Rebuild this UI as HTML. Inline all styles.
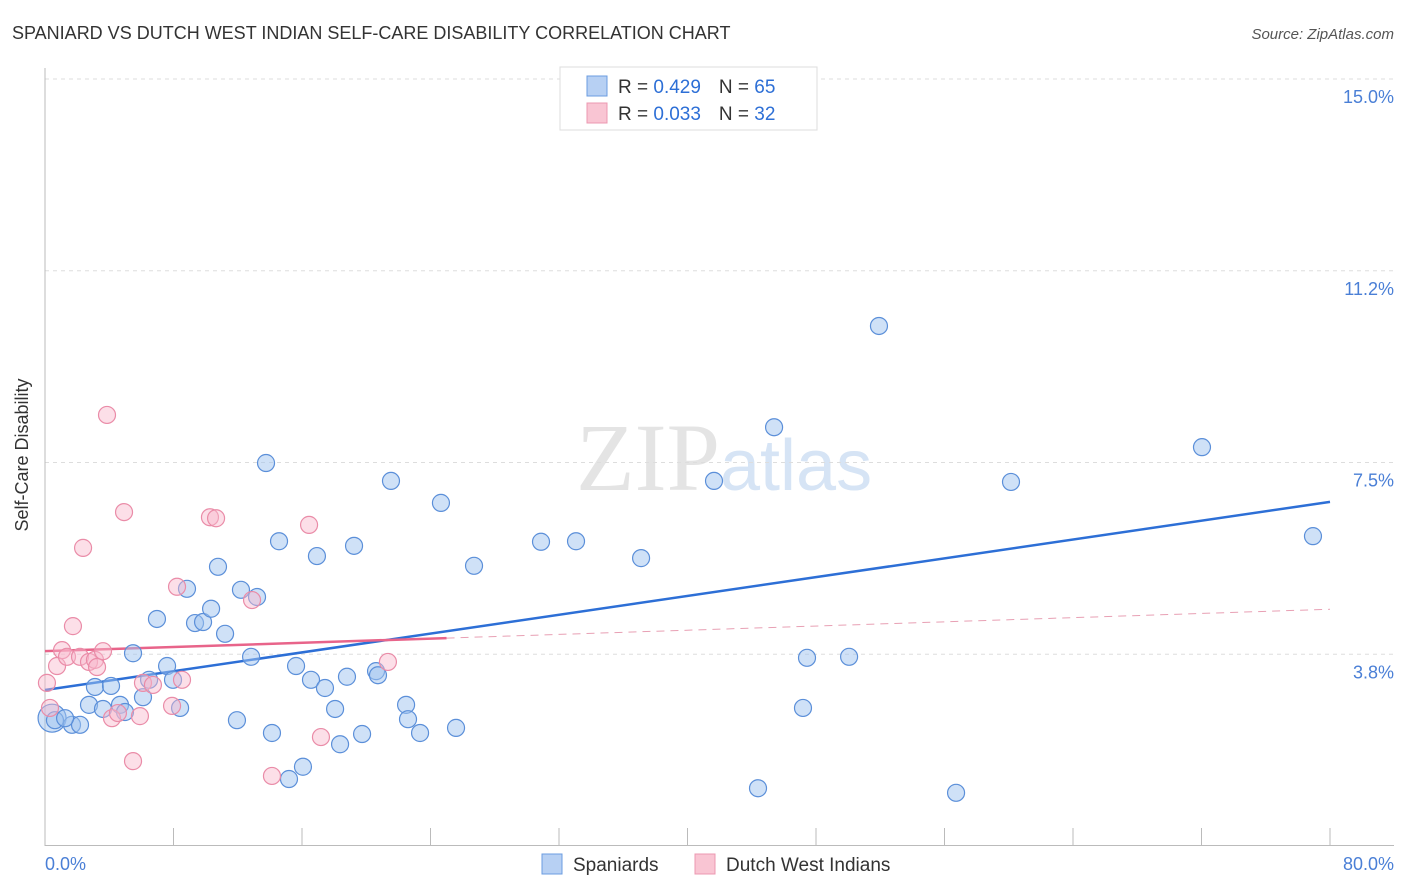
<!DOCTYPE html>
<html><head><meta charset="utf-8"><style>
body{margin:0;background:#fff;font-family:"Liberation Sans",sans-serif;}
svg{display:block}
</style></head><body>
<svg id="chart" width="1406" height="892">
<text x="12" y="39" font-size="18" fill="#333">SPANIARD VS DUTCH WEST INDIAN SELF-CARE DISABILITY CORRELATION CHART</text>
<text x="1394" y="39" font-size="15" fill="#555" font-style="italic" text-anchor="end">Source: ZipAtlas.com</text>
<text x="720" y="490" font-size="96" fill="#e4e4e4" text-anchor="end" font-family="Liberation Serif,serif">ZIP</text>
<text x="720" y="490" font-size="72" fill="#d6e4f5">atlas</text>
<g id="grid"></g><g id="axes"></g><g id="lines"></g><g id="pts"></g>
<text x="28" y="455" font-size="18" fill="#333" transform="rotate(-90 28 455)" text-anchor="middle">Self-Care Disability</text>
<text x="45" y="870" font-size="18" fill="#4a7fd6">0.0%</text>
<text x="1394" y="870" font-size="18" fill="#4a7fd6" text-anchor="end">80.0%</text>
<g>
<rect x="560" y="67" width="257" height="63" fill="#fff" stroke="#ddd"/>
<rect x="587" y="76" width="20" height="20" fill="#b7d0f3" stroke="#6b9ce0"/>
<rect x="587" y="103" width="20" height="20" fill="#f9c5d3" stroke="#ec98b0"/>
<text x="618" y="93" font-size="19" fill="#333">R = <tspan fill="#2d6fd6">0.429</tspan><tspan dx="18">N = </tspan><tspan fill="#2d6fd6">65</tspan></text>
<text x="618" y="120" font-size="19" fill="#333">R = <tspan fill="#2d6fd6">0.033</tspan><tspan dx="18">N = </tspan><tspan fill="#2d6fd6">32</tspan></text>
</g>
<g>
<rect x="542" y="854" width="20" height="20" fill="#b7d0f3" stroke="#6b9ce0"/>
<text x="573" y="871" font-size="19" fill="#333">Spaniards</text>
<rect x="695" y="854" width="20" height="20" fill="#f9c5d3" stroke="#ec98b0"/>
<text x="726" y="871" font-size="19" fill="#333">Dutch West Indians</text>
</g>
</svg>
<script>
const blueX=[0.44,0.62,1.68,2.18,1.25,2.74,3.11,3.61,4.11,4.67,4.98,5.48,6.10,6.48,6.97,7.60,7.97,8.41,8.84,9.34,9.84,10.34,10.77,11.21,11.95,12.20,12.83,13.20,13.76,14.13,14.57,15.19,15.63,16.06,16.56,16.93,17.43,18.06,18.37,18.80,19.24,19.74,20.61,20.73,21.54,22.48,22.60,23.35,24.65,25.59,26.71,30.88,33.06,37.11,41.65,44.39,45.39,47.44,47.19,50.06,51.92,56.72,60.14,72.03,78.94];
const blueY=[2.50,2.46,2.37,2.37,2.50,2.76,3.11,2.68,3.13,2.76,2.62,3.77,2.91,3.25,4.44,3.52,3.25,2.70,5.03,4.36,4.38,4.64,5.46,4.15,2.46,5.01,3.70,4.87,7.49,2.21,5.96,1.31,3.52,1.55,3.25,5.67,3.09,2.68,1.99,3.31,5.87,2.19,3.42,3.34,7.14,2.76,2.48,2.21,6.71,2.31,5.48,5.95,5.96,5.63,7.14,1.13,8.19,3.68,2.70,3.70,10.17,1.04,7.12,7.80,6.06];
const pinkX=[0.12,0.31,0.75,1.06,1.37,1.74,2.18,2.37,2.74,3.11,3.24,3.61,3.86,4.17,4.54,4.92,5.48,5.91,6.10,6.72,7.91,8.22,8.53,10.27,10.65,12.89,14.13,16.44,17.18,21.35];
const pinkY=[3.19,2.70,3.52,3.83,3.70,4.30,3.70,5.83,3.60,3.64,3.50,3.81,8.43,2.50,2.60,6.53,1.66,2.54,3.19,3.15,2.74,5.07,3.25,6.43,6.41,4.81,1.37,6.28,2.13,3.60];
const yTicks=[15,11.25,7.5,3.75];
const yTickLabels=["15.0%","11.2%","7.5%","3.8%"];
const xTicks=[0,8,16,24,32,40,48,56,64,72,80];
const blueTrend=[3.05,6.73];
const pinkTrend=[3.81,4.63];
const pinkSolidEnd=25;
const NS="http://www.w3.org/2000/svg";
const sx=v=>45+v/80*1285, sy=v=>846-v/15*767;
function mk(t,a,p){const e=document.createElementNS(NS,t);for(const k in a)e.setAttribute(k,a[k]);document.getElementById(p).appendChild(e);return e;}
yTicks.forEach((t,i)=>{
 const l=mk('line',{x1:45,x2:1394,y1:sy(t),y2:sy(t),stroke:'#ddd','stroke-dasharray':'4 4'},'grid');
 
 
 const tx=mk('text',{x:1394,y:sy(t)+24,'font-size':18,fill:'#4a7fd6','text-anchor':'end'},'grid');
 tx.textContent=yTickLabels[i];
 
 
});
const ax=mk('line',{x1:45,x2:45,y1:68,y2:846,stroke:'#bbb'},'axes');


const bx=mk('line',{x1:45,x2:1394,y1:845.5,y2:845.5,stroke:'#bbb'},'axes');


xTicks.forEach(t=>{
 const l=mk('line',{x1:sx(t),x2:sx(t),y1:828,y2:846,stroke:'#bbb'},'axes');
 
 
});
const bt=mk('line',{x1:sx(0),y1:sy(blueTrend[0]),x2:sx(80),y2:sy(blueTrend[1]),stroke:'#2d6fd6','stroke-width':2.5},'lines');


const pm=pinkTrend[0]+(pinkTrend[1]-pinkTrend[0])*pinkSolidEnd/80;
const pt=mk('line',{x1:sx(0),y1:sy(pinkTrend[0]),x2:sx(pinkSolidEnd),y2:sy(pm),stroke:'#e8648a','stroke-width':2.5},'lines');


const pd=mk('line',{x1:sx(pinkSolidEnd),y1:sy(pm),x2:sx(80),y2:sy(pinkTrend[1]),stroke:'#e8a0b4','stroke-width':1,'stroke-dasharray':'8 6'},'lines');


blueX.forEach((x,i)=>{
 const c=mk('circle',{cx:sx(x),cy:sy(blueY[i]),r:i==0?14:8.5,fill:'rgba(160,195,240,0.5)',stroke:'#5b8fd9','stroke-width':1.2},'pts');
 
 
});
pinkX.forEach((x,i)=>{
 const c=mk('circle',{cx:sx(x),cy:sy(pinkY[i]),r:8.5,fill:'rgba(248,185,205,0.45)',stroke:'#ea8ca8','stroke-width':1.2},'pts');
 
 
});
</script>
</body></html>
